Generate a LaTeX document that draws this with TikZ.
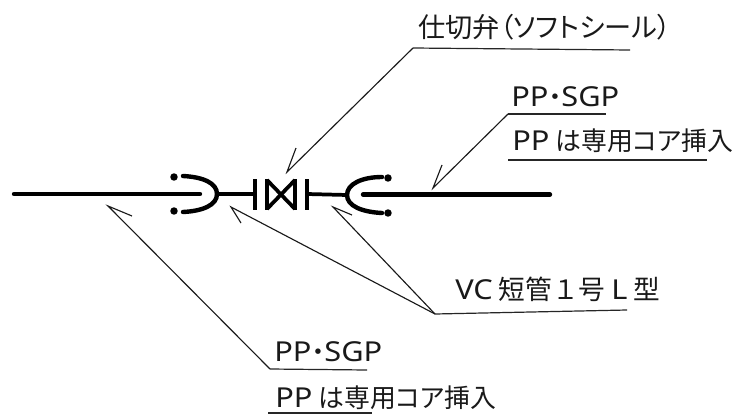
\documentclass[tikz,border=0pt]{standalone}
\usepackage{fontspec}
\setmainfont{Noto Sans CJK JP}
\newfontfamily\jpf{Noto Sans CJK JP}[RawFeature={+palt}]
\newfontfamily\jpn{Noto Sans CJK JP}
\newfontfamily\ltf{Noto Sans}[FakeStretch=1.12]
\newcommand{\lat}[1]{{\ltf\fontsize{20.6}{20}\selectfont #1}}
\tikzset{
  x=0.75pt,y=-0.75pt,
  pipe/.style={line width=3.3pt,line cap=round},
  pipethin/.style={line width=2.8pt},
  bar/.style={line width=3.5pt},
  leader/.style={line width=0.85pt,color=black!90},
  under/.style={line width=0.9pt,color=black!85},
  lab/.style={inner sep=0pt,anchor=base west,font=\jpf\fontsize{19.4}{20}\selectfont,text=black!90},
  dotn/.style={circle,fill=black,inner sep=0pt,minimum size=5.6pt}
}
\begin{document}
\begin{tikzpicture}
\useasboundingbox (0,0) rectangle (741,414);
% pipes
\coordinate (p1) at (14,194); \coordinate (p2) at (200,194);
\coordinate (p3) at (363,194.5); \coordinate (p4) at (550,194.5);
\draw[pipe] (p1) -- (p2);
\draw[pipe] (p3) -- (p4);
% left socket
\coordinate (lt) at (183,176); \coordinate (lb) at (183,212); \coordinate (la) at (217,194);
\draw[pipe] (lt) .. controls (203,177) and (217,183) .. (la) .. controls (217,205) and (203,211) .. (lb);
\node[dotn] (d1) at (174,177) {};
\node[dotn] (d2) at (174,211) {};
% right socket
\coordinate (rt) at (382,177); \coordinate (rb) at (382,213); \coordinate (ra) at (347,195);
\draw[pipe] (rt) .. controls (362,177) and (347,184) .. (ra) .. controls (347,206) and (362,212) .. (rb);
\node[dotn] (d3) at (388,178) {};
\node[dotn] (d4) at (388,213) {};
% flanges
\coordinate (f1) at (255,194); \coordinate (f2) at (307,194);
\draw[pipethin] (la) -- (f1);
\draw[pipethin] (f2) -- (ra);
\draw[bar] (255,179) -- (255,210);
\draw[bar] (307,179) -- (307,210);
% valve
\draw[bar] (267,179) -- (267,210);
\draw[bar] (295,179) -- (295,210);
\draw[line width=2.8pt] (267,180) -- (295,209);
\draw[line width=2.8pt] (267,209) -- (295,180);
% leaders
\coordinate (t1) at (287,172); \coordinate (t1b) at (296,148); \coordinate (j1) at (413,48); \coordinate (e1) at (630,50);
\draw[leader] (t1b) -- (t1) -- (j1);
\draw[under] (j1) -- (e1);
\coordinate (t2) at (433,188); \coordinate (t2b) at (442,165); \coordinate (j2) at (508,114); \coordinate (e2) at (606,114);
\draw[leader] (t2b) -- (t2) -- (j2);
\draw[under] (j2) -- (e2);
\coordinate (u2a) at (508,160); \coordinate (u2b) at (707,160);
\draw[under,line width=1.2pt] (u2a) -- (u2b);
\coordinate (t3) at (108,206); \coordinate (t3b) at (132,216); \coordinate (j3) at (270,369); \coordinate (e3) at (367,370);
\draw[leader] (t3b) -- (t3) -- (j3);
\draw[under] (j3) -- (e3);
\coordinate (u3a) at (268,413); \coordinate (u3b) at (372,413);
\draw[under] (u3a) -- (u3b);
\coordinate (j4) at (435,314); \coordinate (e4) at (627,310);
\coordinate (t4) at (231,207); \coordinate (t4b) at (241,223);
\coordinate (t5) at (333,207); \coordinate (t5b) at (352,215);
\draw[leader] (t4b) -- (t4) -- (j4);
\draw[leader] (t5b) -- (t5) -- (j4);
\draw[under] (j4) -- (e4);
% labels
\node[lab,font=\jpf\fontsize{20.4}{20}\selectfont] (a) at (418,37) {仕切弁（ソフトシール）};
\node[lab] (b) at (511,106) {\lat{PP}・\lat{SGP}};
\node[lab] (c) at (512,150) {\lat{PP} は専用コア挿入};
\node[lab,font=\jpn\fontsize{20}{20}\selectfont] (d) at (455,299) {\lat{VC} 短管１号 \lat{L} 型};
\node[lab] (e) at (274,361) {\lat{PP}・\lat{SGP}};
\node[lab] (f) at (275,407) {\lat{PP} は専用コア挿入};
\end{tikzpicture}
\end{document}
